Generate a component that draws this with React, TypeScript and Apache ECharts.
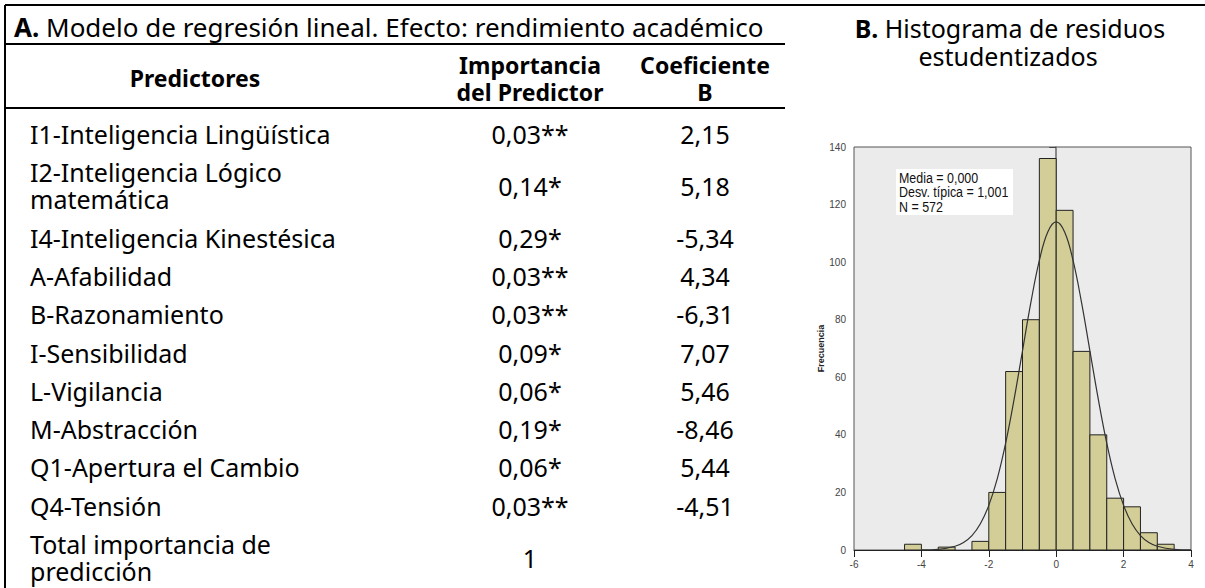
import React, { useEffect, useRef } from "react";
import * as echarts from "echarts";

// ---- Table data (panel A) ----
const tableTitle = "Modelo de regresión lineal. Efecto: rendimiento académico";
const headerPredictors = "Predictores";
const headerImportance = ["Importancia", "del Predictor"];
const headerCoef = ["Coeficiente", "B"];
const predictors = [
  ["I1-Inteligencia Lingüística"],
  ["I2-Inteligencia Lógico", "matemática"],
  ["I4-Inteligencia Kinestésica"],
  ["A-Afabilidad"],
  ["B-Razonamiento"],
  ["I-Sensibilidad"],
  ["L-Vigilancia"],
  ["M-Abstracción"],
  ["Q1-Apertura el Cambio"],
  ["Q4-Tensión"],
  ["Total importancia de", "predicción"],
];
const importance = ["0,03**", "0,14*", "0,29*", "0,03**", "0,03**", "0,09*", "0,06*", "0,19*", "0,06*", "0,03**", "1"];
const coefB = ["2,15", "5,18", "-5,34", "4,34", "-6,31", "7,07", "5,46", "-8,46", "5,44", "-4,51", ""];

// ---- Histogram data (panel B) ----
const histTitle = ["Histograma de residuos", "estudentizados"];
const binStart = [-4.5, -4, -3.5, -3, -2.5, -2, -1.5, -1, -0.5, 0, 0.5, 1, 1.5, 2, 2.5, 3];
const binCounts = [2, 0, 1, 0, 3, 20, 62, 80, 136, 118, 69, 40, 18, 15, 6, 2];
const binWidth = 0.5;
const curveX = [-4, -3.5, -3, -2.75, -2.5, -2.25, -2, -1.75, -1.5, -1.25, -1, -0.75, -0.5, -0.25, 0,
  0.25, 0.5, 0.75, 1, 1.25, 1.5, 1.75, 2, 2.25, 2.5, 2.75, 3, 3.5, 4];
const curveY = [0.04, 0.25, 1.3, 2.6, 5.0, 9.1, 15.5, 24.7, 37.1, 52.3, 69.2, 86.1, 100.6, 110.5, 114.0,
  110.5, 100.6, 86.1, 69.2, 52.3, 37.1, 24.7, 15.5, 9.1, 5.0, 2.6, 1.3, 0.25, 0.04];
const statMean = "0,000";
const statSd = "1,001";
const statN = "572";

const FONT = "'Noto Sans', sans-serif";
const ARIAL = "'Liberation Sans', Arial, sans-serif";

export default function App() {
  const ref = useRef<HTMLDivElement>(null);

  useEffect(() => {
    const chart = echarts.init(ref.current!, null, { renderer: "svg" });

    const single = 38.3;
    const lineGap = 27;
    const colLabelX = 30;
    const colImpX = 530;
    const colCoefX = 705;
    const graphics: any[] = [];

    const txt = (text: string, x: number, y: number, align: string, bold = false, size = 25) => ({
      type: "text",
      x,
      y,
      style: {
        text,
        font: `${bold ? "bold " : ""}${size}px ${FONT}`,
        fill: "#000",
        textAlign: align,
        textVerticalAlign: "middle",
      },
    });
    const multi = (lines: string[], x: number, cy: number, align: string, bold = false, size = 25) =>
      lines.map((l, k) => txt(l, x, cy + (k - (lines.length - 1) / 2) * lineGap, align, bold, size));
    const hline = (x1: number, x2: number, y: number) => ({
      type: "line",
      shape: { x1, y1: y, x2, y2: y },
      style: { stroke: "#000", lineWidth: 2 },
    });

    // frame
    graphics.push(hline(5, 1205, 5));
    graphics.push({ type: "line", shape: { x1: 5, y1: 5, x2: 5, y2: 588 }, style: { stroke: "#000", lineWidth: 2 } });
    // title A
    graphics.push({
      type: "text",
      x: 14,
      y: 27,
      style: {
        text: `{b|A.} ${tableTitle}`,
        font: `26px ${FONT}`,
        fill: "#000",
        textVerticalAlign: "middle",
        rich: { b: { fontWeight: "bold", fontSize: 26, fontFamily: FONT } },
      },
    });
    graphics.push(hline(5, 785, 44));
    // header
    graphics.push(txt(headerPredictors, 195, 78, "center", true, 23));
    graphics.push(...multi(headerImportance, colImpX, 78, "center", true, 23));
    graphics.push(...multi(headerCoef, colCoefX, 78, "center", true, 23));
    graphics.push(hline(5, 785, 108));
    // rows
    let top = 134 - single / 2;
    predictors.forEach((p, i) => {
      const h = single + (p.length - 1) * lineGap;
      const cy = top + h / 2;
      graphics.push(...multi(p, colLabelX, cy, "left"));
      graphics.push(txt(importance[i], colImpX, cy, "center"));
      if (coefB[i]) graphics.push(txt(coefB[i], colCoefX, cy, "center"));
      top += h;
    });
    // title B
    graphics.push({
      type: "text",
      x: 1010,
      y: 28,
      style: {
        text: `{b|B.} ${histTitle[0]}`,
        font: `25px ${FONT}`,
        fill: "#000",
        textAlign: "center",
        textVerticalAlign: "middle",
        rich: { b: { fontWeight: "bold", fontSize: 25, fontFamily: FONT } },
      },
    });
    graphics.push(txt(histTitle[1], 1008, 56, "center"));
    // stats box
    graphics.push({
      type: "rect",
      shape: { x: 896, y: 169, width: 117, height: 46 },
      style: { fill: "#fff" },
      z: 10,
    });
    graphics.push({
      type: "text",
      x: 899,
      y: 171,
      scaleX: 0.83,
      z: 11,
      style: {
        text: `Media = ${statMean}\nDesv. típica = ${statSd}\nN = ${statN}`,
        font: `15px ${ARIAL}`,
        fill: "#111",
        lineHeight: 14.3,
        textVerticalAlign: "top",
      },
    });

    const barData = binStart
      .map((s, i) => [s, binCounts[i]])
      .filter((d) => d[1] > 0);

    const option: any = {
      animation: false,
      backgroundColor: "#fff",
      grid: {
        left: 854,
        right: 14,
        top: 147,
        bottom: 38,
        show: true,
        backgroundColor: "#EBEBEB",
        borderColor: "#555",
        borderWidth: 1,
      },
      xAxis: {
        type: "value",
        min: -6,
        max: 4,
        interval: 2,
        axisLine: { show: true, onZero: false, lineStyle: { color: "#222", width: 1 } },
        axisTick: { show: true, length: 7, lineStyle: { color: "#222" } },
        axisLabel: { fontFamily: ARIAL, fontSize: 10, color: "#444", margin: 9 },
        splitLine: { show: false },
      },
      yAxis: {
        type: "value",
        min: 0,
        max: 140,
        interval: 20,
        name: "Frecuencia",
        nameLocation: "middle",
        nameGap: 29,
        nameTextStyle: { fontFamily: ARIAL, fontWeight: "bold", fontSize: 9, color: "#222" },
        axisLine: { show: true, lineStyle: { color: "#888", width: 2 } },
        axisTick: { show: true, length: 7, lineStyle: { color: "#444" } },
        axisLabel: { fontFamily: ARIAL, fontSize: 10, color: "#444", margin: 8 },
        splitLine: { show: false },
      },
      series: [
        {
          type: "custom",
          data: barData,
          encode: { x: 0, y: 1 },
          renderItem: (params: any, api: any) => {
            const x0 = api.value(0);
            const h = api.value(1);
            const p0 = api.coord([x0, h]);
            const p1 = api.coord([x0 + binWidth, 0]);
            return {
              type: "rect",
              shape: { x: p0[0], y: p0[1], width: p1[0] - p0[0], height: p1[1] - p0[1] },
              style: { fill: "#D3CE97", stroke: "#222", lineWidth: 1 },
            };
          },
          z: 2,
        },
        {
          type: "line",
          data: curveX.map((x, i) => [x, curveY[i]]),
          smooth: 0.4,
          showSymbol: false,
          lineStyle: { color: "#333", width: 1.2 },
          z: 3,
        },
      ],
      graphic: graphics,
    };

    chart.setOption(option);
    return () => chart.dispose();
  }, []);

  return (
    <div
      ref={ref}
      style={{ position: "absolute", left: 0, top: 0, width: 1205, height: 588, background: "#fff" }}
    />
  );
}
